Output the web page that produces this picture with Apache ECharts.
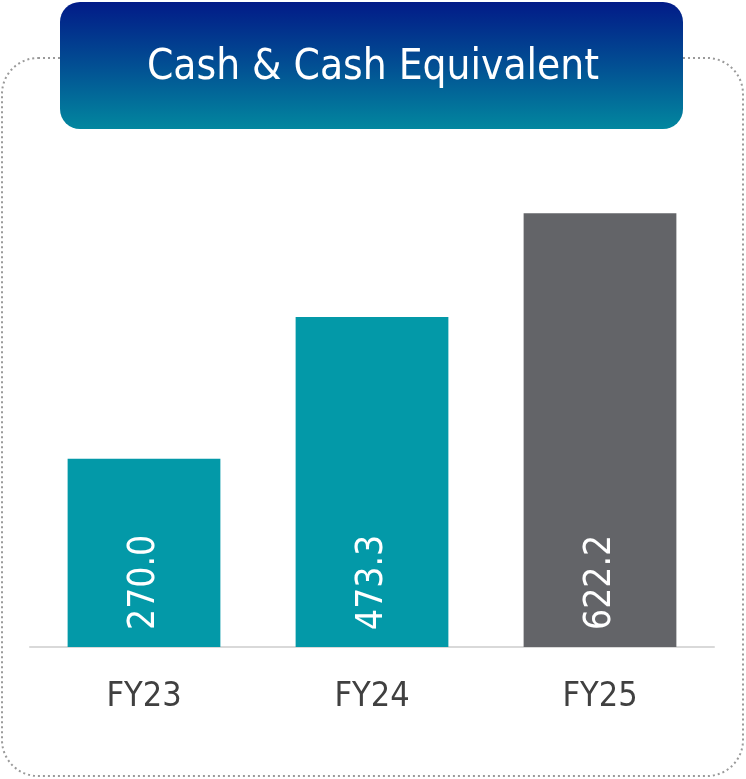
<!DOCTYPE html>
<html>
<head>
<meta charset="utf-8">
<script src="https://cdn.jsdelivr.net/npm/echarts@6/dist/echarts.min.js"></script>
<style>
  html, body { margin: 0; padding: 0; background: #fff; }
  #main { width: 746px; height: 779px; }
</style>
</head>
<body>
<div id="main"></div>
<script>
  // data
  var categories = ['FY23', 'FY24', 'FY25'];
  var cashValues = [270.0, 473.3, 622.2];
  var barColors = ['#0399a8', '#0399a8', '#636468'];
  var titleText = 'Cash & Cash Equivalent';

  var fontName = '"DejaVu Sans Condensed", "DejaVu Sans", sans-serif';

  var chart = echarts.init(document.getElementById('main'));

  var option = {
    backgroundColor: '#fff',
    animation: false,
    grid: {
      left: 30,
      right: 32,
      top: 159,
      bottom: 132
    },
    xAxis: {
      type: 'category',
      data: categories,
      axisLine: { lineStyle: { color: '#d9d9d9', width: 2 } },
      axisTick: { show: false },
      axisLabel: {
        color: '#404040',
        fontSize: 34,
        fontFamily: fontName,
        margin: 33
      }
    },
    yAxis: {
      type: 'value',
      min: 0,
      max: 700,
      show: false,
      splitLine: { show: false }
    },
    series: [{
      type: 'bar',
      barWidth: '67%',
      data: cashValues.map(function (v, i) {
        return { value: v, itemStyle: { color: barColors[i] } };
      }),
      label: {
        show: true,
        position: 'insideBottom',
        rotate: 90,
        align: 'left',
        verticalAlign: 'middle',
        distance: 17,
        color: '#fff',
        fontSize: 37,
        fontFamily: fontName,
        formatter: function (p) { return p.value.toFixed(1); }
      }
    }],
    graphic: [
      {
        // dotted frame
        type: 'rect',
        z: -10,
        shape: { x: 2, y: 58, width: 741, height: 718, r: 36 },
        style: { fill: 'none', stroke: '#9a9a9a', lineWidth: 2, lineDash: [2, 3] }
      },
      {
        // title banner
        type: 'rect',
        z: 10,
        left: 60,
        top: 2,
        shape: { x: 0, y: 0, width: 623, height: 127, r: 20 },
        style: {
          fill: {
            type: 'linear',
            x: 0, y: 0, x2: 0, y2: 1,
            colorStops: [
              { offset: 0, color: '#021b88' },
              { offset: 0.5, color: '#024f93' },
              { offset: 1, color: '#02879f' }
            ]
          }
        }
      },
      {
        type: 'text',
        z: 11,
        left: 'center',
        top: 47,
        style: {
          text: titleText,
          fill: '#fff',
          fontSize: 42,
          fontFamily: fontName
        }
      }
    ]
  };

  chart.setOption(option);
</script>
</body>
</html>
